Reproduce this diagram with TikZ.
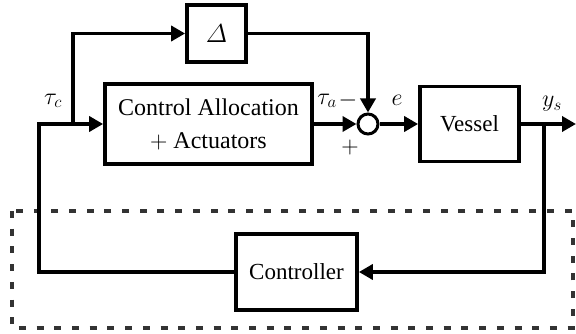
\RequirePackage{fix-cm}
\documentclass[tikz,border=0pt]{standalone}
\usepackage{amsmath}
\usepackage{fontspec}
\setmainfont{Liberation Serif}
\usetikzlibrary{arrows.meta}
\definecolor{dashgray}{HTML}{333333}

\begin{document}
\begin{tikzpicture}[x=1pt,y=1pt,line join=miter,
  wire/.style={line width=3.7pt},
  sig/.style={wire,-{Triangle[length=14pt,width=15pt]}},
  blk/.style={draw,line width=3.7pt,inner sep=0pt,font=\fontsize{23}{33}\selectfont},
  lbl/.style={font=\fontsize{24}{28}\selectfont},
  loopbox/.style={line width=4.5pt,draw=dashgray,dash pattern=on 7pt off 10.7pt}
]
\useasboundingbox (0,0) rectangle (576,-334);

% dashed frame around the feedback part
\draw[loopbox] (12,-211) rectangle (573,-328);

% blocks
\node[blk, minimum width=59pt, minimum height=57pt, font=\fontsize{26}{30}\selectfont] (delta) at (216.5,-33.5) {$\varDelta$};
\node[blk, minimum width=207pt, minimum height=80pt, align=center, font=\fontsize{24}{33}\selectfont] (alloc) at (208.5,-124) {Control Allocation\\$+$ Actuators};
\node[draw, circle, line width=3pt, minimum size=20pt, inner sep=0pt] (sum) at (368,-124) {};
\node[blk, minimum width=99pt, minimum height=75pt] (vessel) at (469.5,-124) {Vessel};
\node[blk, minimum width=121pt, minimum height=76pt] (ctrl) at (296.5,-272) {Controller};

% routing points
\coordinate (tc) at (73,-124);
\coordinate (tcup) at (73,-33.5);
\coordinate (dn) at (368,-33.5);
\coordinate (ys) at (544,-124);
\coordinate (out) at (576,-124);
\coordinate (fbR) at (544,-272);
\coordinate (fbL) at (39,-272);
\coordinate (inL) at (39,-124);

% connectors
\draw[sig] (ctrl.west) -- (fbL) -- (inL) -- (alloc.west);
\draw[sig] (tc) -- (tcup) -- (delta.west);
\draw[sig] (delta.east) -- (dn) -- (sum.north);
\draw[sig] (alloc.east) -- (sum.west);
\draw[sig] (sum.east) -- (vessel.west);
\draw[sig] (vessel.east) -- (out);
\draw[sig] (ys) -- (fbR) -- (ctrl.east);

% signal labels
\node[lbl] (ltc) at (53,-101) {$\tau_c$};
\node[lbl] (lta) at (327,-101) {$\tau_a$};
\node[lbl] (lminus) at (348,-101) {$-$};
\node[lbl] (lplus) at (350,-148) {$+$};
\node[lbl] (le) at (397,-100) {$e$};
\node[lbl] (lys) at (552,-104) {$y_s$};
\end{tikzpicture}
\end{document}
